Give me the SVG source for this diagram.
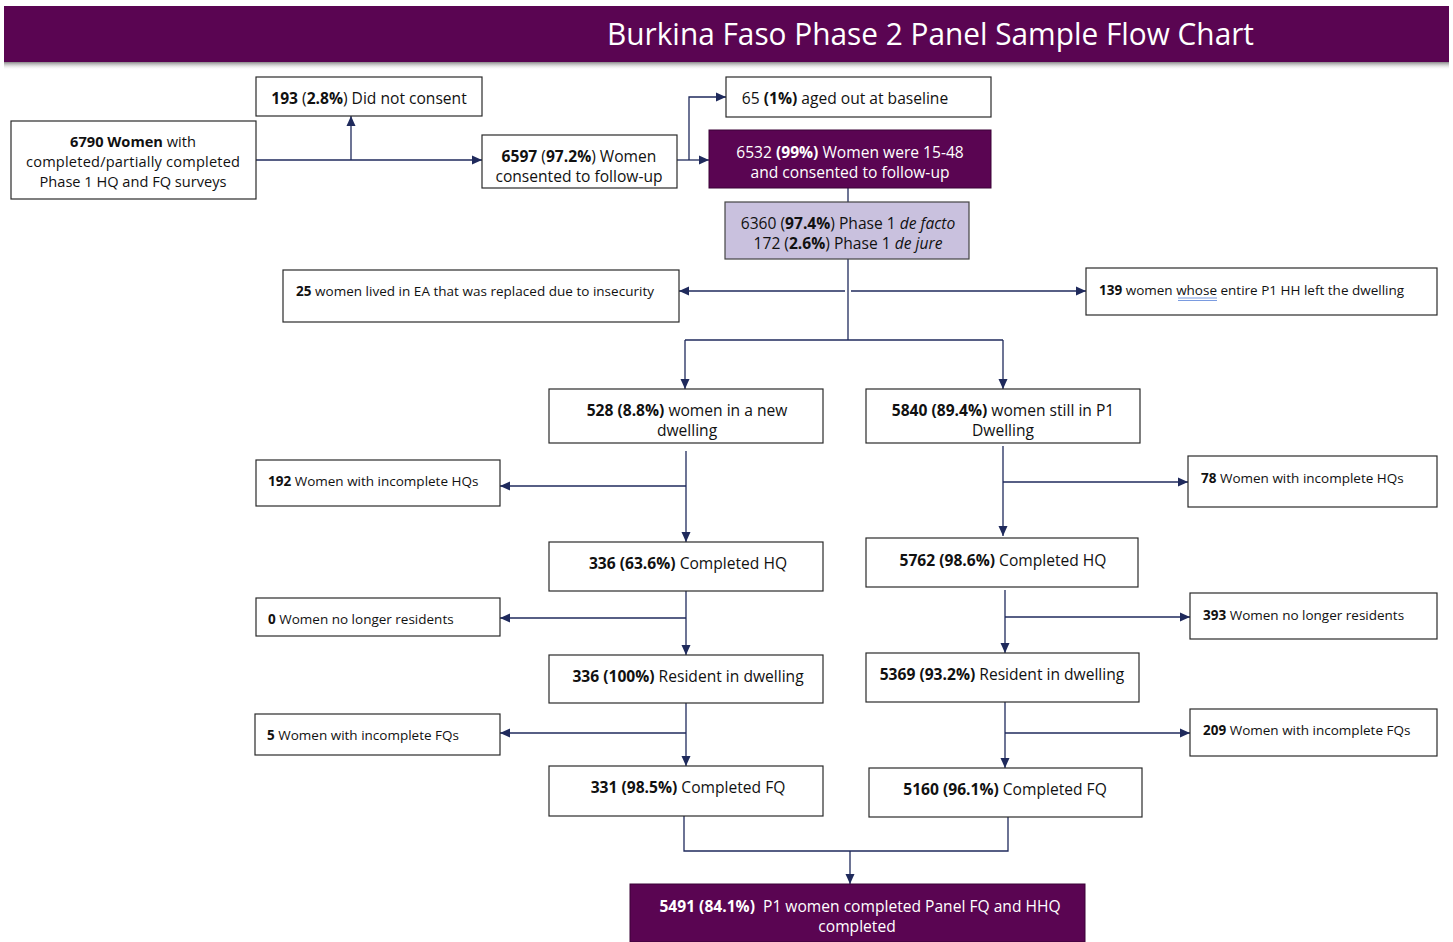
<svg xmlns="http://www.w3.org/2000/svg" width="1453" height="942" viewBox="0 0 1453 942">
<style>
text{font-family:"Open Sans","Noto Sans","DejaVu Sans",sans-serif;fill:#111}
.m{font-size:15.6px;text-anchor:middle}
.s{font-size:13.5px}
.w{fill:#fff}
.b{font-weight:bold}
.box{fill:#fff;stroke:#2a2a2a;stroke-width:1.2}
.pur{fill:#5a0552;stroke:#3a0336;stroke-width:1}
.lav{fill:#c9c1de;stroke:#444;stroke-width:1.2}
.c{fill:none;stroke:#1f2a5c;stroke-width:1.3}
.ca{fill:none;stroke:#1f2a5c;stroke-width:1.3;marker-end:url(#ah)}
</style>
<defs>
<marker id="ah" markerUnits="userSpaceOnUse" markerWidth="10" markerHeight="10" viewBox="0 0 10 10" refX="10" refY="5" orient="auto">
<path d="M0,0.5 L10,5 L0,9.5 Z" fill="#1f2a5c"/>
</marker>
<linearGradient id="sh" x1="0" y1="0" x2="0" y2="1">
<stop offset="0" stop-color="#888"/>
<stop offset="1" stop-color="#fff" stop-opacity="0"/>
</linearGradient>
</defs>
<rect width="1453" height="942" fill="#fff"/>
<g id="title">
<rect x="4" y="62" width="1445" height="8" fill="url(#sh)"/>
<rect x="4" y="6" width="1445" height="56" fill="#5a0552"/>
<text x="607" y="45" font-size="31" class="w" textLength="647" lengthAdjust="spacingAndGlyphs">Burkina Faso Phase 2 Panel Sample Flow Chart</text>
</g>
<g id="connectors">
<path class="ca" d="M256,160 H482"/>
<path class="ca" d="M351,160 V116"/>
<path class="ca" d="M677,160 H709"/>
<path class="ca" d="M689,160 V97 H726"/>
<path class="c" d="M848,188 V202"/>
<path class="c" d="M848,259 V340"/>
<path class="ca" d="M845,291 H679"/>
<path class="ca" d="M851,291 H1086"/>
<path class="c" d="M685,340 H1003"/>
<path class="ca" d="M685,340 V389"/>
<path class="ca" d="M1003,340 V389"/>
<path class="ca" d="M686,451 V542"/>
<path class="ca" d="M686,486 H500"/>
<path class="ca" d="M1003,446 V536"/>
<path class="ca" d="M1003,482 H1188"/>
<path class="ca" d="M686,591 V655"/>
<path class="ca" d="M686,618 H500"/>
<path class="ca" d="M1005,590 V653"/>
<path class="ca" d="M1005,617 H1190"/>
<path class="ca" d="M686,703 V766"/>
<path class="ca" d="M686,733 H500"/>
<path class="ca" d="M1005,702 V768"/>
<path class="ca" d="M1005,733 H1190"/>
<path class="c" d="M684,816 V851 H1008 V817"/>
<path class="ca" d="M850,851 V884"/>
</g>
<g id="n6790">
<rect class="box" x="11" y="121" width="245" height="78"/>
<text class="m" x="133" y="147" style="font-size:14.6px"><tspan class="b">6790 Women</tspan> with</text>
<text class="m" x="133" y="167" style="font-size:14.6px" textLength="214" lengthAdjust="spacing">completed/partially completed</text>
<text class="m" x="133" y="187" style="font-size:14.6px">Phase 1 HQ and FQ surveys</text>
</g>
<g id="n193">
<rect class="box" x="256" y="77" width="226" height="39"/>
<text class="m" x="369" y="104"><tspan class="b">193</tspan> (<tspan class="b">2.8%</tspan>) Did not consent</text>
</g>
<g id="n6597">
<rect class="box" x="482" y="135" width="195" height="53"/>
<text class="m" x="579" y="162"><tspan class="b">6597</tspan> (<tspan class="b">97.2%</tspan>) Women</text>
<text class="m" x="579" y="182">consented to follow-up</text>
</g>
<g id="n65">
<rect class="box" x="726" y="77" width="265" height="40"/>
<text class="m" x="845" y="104">65 <tspan class="b">(1%)</tspan> aged out at baseline</text>
</g>
<g id="n6532">
<rect class="pur" x="709" y="130" width="282" height="58"/>
<text class="m w" x="850" y="158">6532 <tspan class="b">(99%)</tspan> Women were 15-48</text>
<text class="m w" x="850" y="178">and consented to follow-up</text>
</g>
<g id="n6360">
<rect class="lav" x="725" y="202" width="244" height="57"/>
<text class="m" x="848" y="229">6360 (<tspan class="b">97.4%</tspan>) Phase 1 <tspan font-style="italic">de facto</tspan></text>
<text class="m" x="848" y="249">172 (<tspan class="b">2.6%</tspan>) Phase 1 <tspan font-style="italic">de jure</tspan></text>
</g>
<g id="n25">
<rect class="box" x="283" y="270" width="396" height="52"/>
<text class="s" x="296" y="296" textLength="358" lengthAdjust="spacing"><tspan class="b">25</tspan> women lived in EA that was replaced due to insecurity</text>
</g>
<g id="n139">
<rect class="box" x="1086" y="268" width="351" height="47"/>
<text class="s" x="1099" y="295"><tspan class="b">139</tspan> women whose entire P1 HH left the dwelling</text>
<path d="M1178,298 H1217 M1178,300.5 H1217" stroke="#7a9be0" stroke-width="1"/>
</g>
<g id="n528">
<rect class="box" x="549" y="389" width="274" height="54"/>
<text class="m" x="687" y="416"><tspan class="b">528 (8.8%)</tspan> women in a new</text>
<text class="m" x="687" y="436">dwelling</text>
</g>
<g id="n5840">
<rect class="box" x="866" y="389" width="274" height="54"/>
<text class="m" x="1003" y="416"><tspan class="b">5840 (89.4%)</tspan> women still in P1</text>
<text class="m" x="1003" y="436">Dwelling</text>
</g>
<g id="n192">
<rect class="box" x="256" y="460" width="244" height="46"/>
<text class="s" x="268" y="486"><tspan class="b">192</tspan> Women with incomplete HQs</text>
</g>
<g id="n78">
<rect class="box" x="1188" y="456" width="249" height="51"/>
<text class="s" x="1201" y="483"><tspan class="b">78</tspan> Women with incomplete HQs</text>
</g>
<g id="n336hq">
<rect class="box" x="549" y="542" width="274" height="49"/>
<text class="m" x="688" y="569"><tspan class="b">336 (63.6%)</tspan> Completed HQ</text>
</g>
<g id="n5762">
<rect class="box" x="866" y="538" width="272" height="49"/>
<text class="m" x="1003" y="566"><tspan class="b">5762 (98.6%)</tspan> Completed HQ</text>
</g>
<g id="n0">
<rect class="box" x="256" y="598" width="244" height="38"/>
<text class="s" x="268" y="624"><tspan class="b">0</tspan> Women no longer residents</text>
</g>
<g id="n393">
<rect class="box" x="1190" y="593" width="247" height="46"/>
<text class="s" x="1203" y="620"><tspan class="b">393</tspan> Women no longer residents</text>
</g>
<g id="n336res">
<rect class="box" x="549" y="655" width="274" height="48"/>
<text class="m" x="688" y="682"><tspan class="b">336 (100%)</tspan> Resident in dwelling</text>
</g>
<g id="n5369">
<rect class="box" x="866" y="653" width="273" height="49"/>
<text class="m" x="1002" y="680"><tspan class="b">5369 (93.2%)</tspan> Resident in dwelling</text>
</g>
<g id="n5">
<rect class="box" x="255" y="714" width="245" height="41"/>
<text class="s" x="267" y="740"><tspan class="b">5</tspan> Women with incomplete FQs</text>
</g>
<g id="n209">
<rect class="box" x="1190" y="709" width="247" height="47"/>
<text class="s" x="1203" y="735"><tspan class="b">209</tspan> Women with incomplete FQs</text>
</g>
<g id="n331">
<rect class="box" x="549" y="766" width="274" height="50"/>
<text class="m" x="688" y="793"><tspan class="b">331 (98.5%)</tspan> Completed FQ</text>
</g>
<g id="n5160">
<rect class="box" x="869" y="768" width="273" height="49"/>
<text class="m" x="1005" y="795"><tspan class="b">5160 (96.1%)</tspan> Completed FQ</text>
</g>
<g id="n5491">
<rect class="pur" x="630" y="884" width="455" height="58"/>
<text class="m w" x="860" y="912" xml:space="preserve"><tspan class="b">5491 (84.1%)</tspan>  P1 women completed Panel FQ and HHQ</text>
<text class="m w" x="857" y="932">completed</text>
</g>
</svg>
